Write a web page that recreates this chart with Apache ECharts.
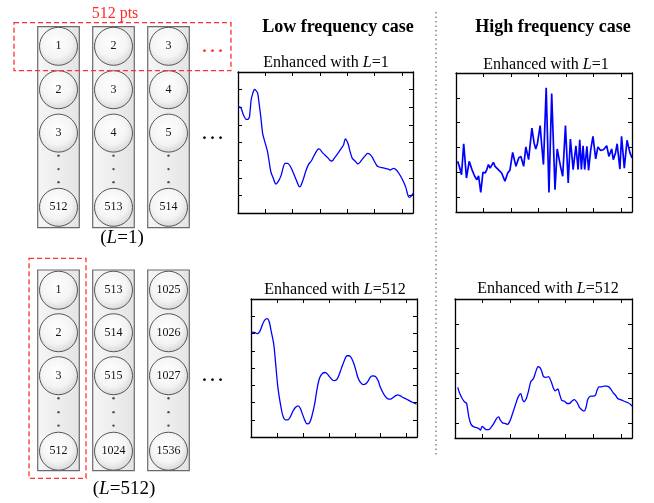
<!DOCTYPE html>
<html><head><meta charset="utf-8">
<script src="https://cdn.jsdelivr.net/npm/echarts@6/dist/echarts.min.js"></script>
<style>html,body{margin:0;padding:0;background:#fff}#c{width:654px;height:503px}</style>
</head><body><div id="c"></div>
<script>
// ---------------- data ----------------
const topColumns = [[1,2,3,512],[2,3,4,513],[3,4,5,514]];      // L=1 windows
const bottomColumns = [[1,2,3,512],[513,514,515,1024],[1025,1026,1027,1536]]; // L=512 windows

const lowL1X = [0,5,10,15,18,21,24,27,30,33,36,39,42,45,49,54,57,60,65,69,74,79,83,86,91,95,99,104,109,112,115,120,124,129,134,138,143,147,150,154,159,164,168,171,174,179,184,188,193,196,199,202,205,209,214,219,223,227,232,237,241,246,249,254,258,263,269,274,278,281,284,288,293,298,302,307,310,313,316,319,320];
const lowL1Y = [6.03,5.99,5.56,5.31,5.31,5.46,6.41,6.79,7.01,6.94,6.79,6.12,5.37,4.52,4.05,3.48,2.91,2.34,1.93,1.64,1.81,2.15,2.63,2.82,2.82,2.68,2.44,2.06,1.68,1.49,1.55,1.97,2.38,2.76,2.95,3.19,3.48,3.63,3.61,3.44,3.29,3.14,2.99,2.95,3.01,3.23,3.44,3.63,3.86,4.20,4.10,3.86,3.48,3.10,2.95,2.78,2.87,3.04,3.23,3.38,3.33,3.14,2.95,2.68,2.61,2.57,2.53,2.50,2.44,2.48,2.53,2.48,2.31,2.06,1.81,1.44,1.08,0.89,0.93,1.06,1.12];

const highL1X = [3,6,10,14,19,24,29,34,38,41,45,49,53,56,59,62,65,68,71,76,79,83,89,94,98,103,109,114,118,123,127,132,138,142,145,148,153,156,159,164,169,174,180,184,190,194,199,204,208,213,218,222,225,228,231,234,238,241,245,249,254,258,263,268,271,274,278,283,286,290,293,298,301,306,311,316,320];
const highL1Y = [2.04,1.84,1.50,2.75,1.37,2.04,1.71,1.44,1.30,1.46,0.79,1.60,1.57,1.71,1.91,1.77,1.84,2.00,1.84,1.73,1.71,1.57,1.24,1.57,1.68,2.40,1.84,2.18,2.24,1.84,2.62,2.11,3.38,2.78,2.54,2.75,3.48,2.65,1.91,5.00,0.79,4.77,0.90,2.54,1.84,1.44,3.48,1.17,2.94,1.71,2.67,1.71,2.91,1.71,2.67,1.71,2.65,1.68,2.51,3.05,2.14,2.62,2.48,2.51,2.54,2.67,2.24,2.54,2.11,2.38,2.75,1.73,3.05,1.77,2.89,2.40,2.18];

const lowL512X = [1,7,12,17,22,26,31,35,39,44,48,52,57,62,67,71,76,81,86,91,95,99,104,108,113,118,123,127,132,138,143,147,152,157,161,166,171,176,181,185,189,193,198,202,206,211,216,221,226,230,235,240,245,249,255,260,264,269,274,279,283,288,293,300,306,312,319,320];
const lowL512Y = [6.08,6.06,5.99,6.12,6.51,6.76,6.86,6.70,6.12,5.35,4.09,2.83,1.86,1.18,0.99,0.99,1.18,1.51,1.72,1.80,1.67,1.34,0.95,0.76,0.83,1.28,1.96,2.73,3.41,3.70,3.74,3.66,3.47,3.31,3.27,3.35,3.70,4.13,4.51,4.71,4.71,4.61,4.28,3.89,3.45,3.16,3.04,3.08,3.25,3.47,3.54,3.51,3.27,2.92,2.54,2.31,2.21,2.19,2.29,2.40,2.44,2.38,2.29,2.19,2.09,2.00,1.90,1.88];

const highL512X = [5,8,13,17,21,25,29,34,39,43,46,49,52,56,61,65,70,75,79,82,86,91,95,100,105,109,113,116,119,122,125,129,133,137,142,146,150,153,156,160,165,169,174,178,181,186,189,193,198,203,207,212,216,221,225,230,234,237,240,245,250,254,257,260,265,269,274,278,282,286,290,294,299,304,308,312,317,320];
const highL512Y = [2.04,1.82,1.59,1.46,1.39,0.85,0.55,0.45,0.42,0.38,0.31,0.47,0.42,0.34,0.34,0.42,0.58,0.78,0.85,0.72,0.61,0.58,0.55,0.72,1.05,1.32,1.59,1.73,1.79,1.55,1.46,1.59,1.90,2.27,2.40,2.67,2.87,2.85,2.74,2.47,2.44,2.47,2.27,2.00,1.90,1.98,1.77,1.52,1.48,1.39,1.39,1.50,1.55,1.42,1.23,1.12,1.09,1.25,1.55,1.69,1.69,1.73,1.93,2.06,2.06,2.09,2.09,2.06,1.96,1.82,1.73,1.59,1.55,1.50,1.46,1.43,1.36,1.28];

const highYTicks = [0.6,1.6,2.6,3.6,4.6];

// ---------------- layout ----------------
const SERIF = '"Liberation Serif", "Times New Roman", serif';
const rowPos = [[0,1,2,3.71],[5.62,6.6,7.59,9.33]];
const dotRows = [[2.52,2.83,3.13],[8.11,8.43,8.74]];
const rectRows = [[-0.452,4.18],[5.154,9.779]];
const redBoxes = [[-0.809,-0.544,3.136,0.562],[-0.536,4.885,0.5,9.954]];

const plotGrids = [
  {left:238, top:72, width:175, height:141},
  {left:456, top:73, width:176, height:139},
  {left:251, top:299, width:166, height:138},
  {left:455, top:299, width:177, height:139}
];
const isHigh = [false, true, false, true];

const zip = (xs, ys) => xs.map((x, i) => [x, ys[i]]);

const grid = plotGrids.map(g => Object.assign({containLabel:false}, g));
grid.push({left:31, top:24.6, width:165, height:477.4});

const xAxis = [], yAxis = [];
const axLine = {show:true, onZero:false, lineStyle:{color:'#000', width:1.3}};
plotGrids.forEach((g, gi) => {
  ['bottom','top'].forEach(pos => xAxis.push({
    gridIndex:gi, type:'value', position:pos, min:0, max:320, interval:50,
    axisLine:axLine, axisTick:{show:true, inside:true, length:4, lineStyle:{color:'#000', width:1}},
    axisLabel:{show:false}, splitLine:{show:false}
  }));
  ['left','right'].forEach(pos => {
    const ax = {
      gridIndex:gi, type:'value', position:pos,
      axisLine:axLine, axisLabel:{show:false}, splitLine:{show:false}
    };
    if (isHigh[gi]) {
      ax.min = 0; ax.max = 5.6;
      ax.axisTick = {show:true, inside:true, length:4, customValues:highYTicks, lineStyle:{color:'#000', width:1}};
    } else {
      ax.min = 0; ax.max = 8; ax.interval = 1;
      ax.axisTick = {show:true, inside:true, length:4, lineStyle:{color:'#000', width:1}};
    }
    yAxis.push(ax);
  });
});
xAxis.push({gridIndex:4, type:'value', min:-0.5, max:2.5, show:false});
yAxis.push({gridIndex:4, type:'value', inverse:true, min:-0.5, max:10.5, show:false});

const curves = [
  [lowL1X, lowL1Y, 0.2, 1.3],
  [highL1X, highL1Y, 0, 1.7],
  [lowL512X, lowL512Y, 0.3, 1.3],
  [highL512X, highL512Y, 0.2, 1.3]
];
const series = curves.map((c, i) => ({
  type:'line', xAxisIndex:2*i, yAxisIndex:2*i, data:zip(c[0], c[1]),
  showSymbol:false, smooth:c[2], lineStyle:{color:'#0000ff', width:c[3]}, z:3
}));

// column rectangles
const colData = [];
[0,1].forEach(b => [0,1,2].forEach(c => colData.push([c, b])));
series.push({
  type:'custom', xAxisIndex:8, yAxisIndex:8, clip:false, z:1, data:colData,
  renderItem: (params, api) => {
    const c = api.value(0), b = api.value(1);
    const p0 = api.coord([c - 0.378, rectRows[b][0]]);
    const p1 = api.coord([c + 0.378, rectRows[b][1]]);
    return {type:'rect', shape:{x:p0[0], y:p0[1], width:p1[0]-p0[0], height:p1[1]-p0[1]},
      style:{fill:new echarts.graphic.LinearGradient(0,0,1,0,[{offset:0,color:'#f6f6f6'},{offset:1,color:'#e4e4e4'}]),
        stroke:'#6a6a6a', lineWidth:1.2}};
  }
});
// circles
const circleData = [];
[topColumns, bottomColumns].forEach((cols, b) => cols.forEach((col, c) => col.forEach((v, r) => circleData.push([c, rowPos[b][r], v]))));
series.push({
  type:'scatter', xAxisIndex:8, yAxisIndex:8, clip:false, z:2, data:circleData, symbol:'circle', symbolSize:38,
  itemStyle:{color:{type:'radial', x:0.45, y:0.4, r:0.6, colorStops:[{offset:0,color:'#ffffff'},{offset:0.65,color:'#f4f4f4'},{offset:1,color:'#d8d8d8'}]},
    borderColor:'#555', borderWidth:1, opacity:1},
  label:{show:true, position:'inside', formatter:p => p.value[2], fontFamily:SERIF, fontSize:12, color:'#111'},
  emphasis:{disabled:true}
});
// vertical dots
const dotData = [];
[0,1].forEach(b => [0,1,2].forEach(c => dotRows[b].forEach(r => dotData.push([c, r]))));
series.push({
  type:'scatter', xAxisIndex:8, yAxisIndex:8, clip:false, z:2, data:dotData, symbol:'circle', symbolSize:2.4,
  itemStyle:{color:'#222'}, emphasis:{disabled:true}
});
// red dashed selection boxes
series.push({
  type:'custom', xAxisIndex:8, yAxisIndex:8, clip:false, z:4, data:redBoxes,
  renderItem: (params, api) => {
    const p0 = api.coord([api.value(0), api.value(1)]);
    const p1 = api.coord([api.value(2), api.value(3)]);
    return {type:'rect', shape:{x:p0[0], y:p0[1], width:p1[0]-p0[0], height:p1[1]-p0[1]},
      style:{fill:'none', stroke:'#ff3030', lineWidth:1.3, lineDash:[5,3]}};
  }
});

function rt(txt, x, y, size, color) {
  return {type:'text', x:x, y:y, z:10, style:{text:txt, align:'center', verticalAlign:'middle', fill:color || '#000',
    rich:{n:{fontSize:size, fontFamily:SERIF, fill:color || '#000'}, i:{fontSize:size, fontFamily:SERIF, fontStyle:'italic', fill:color || '#000'}}}};
}
function pt(txt, x, y, font, color) {
  return {type:'text', x:x, y:y, z:10, style:{text:txt, align:'center', verticalAlign:'middle', font:font, fill:color || '#000'}};
}

const graphic = [
  pt('Low frequency case', 338, 27, 'bold 18px ' + SERIF),
  pt('High frequency case', 553, 27, 'bold 18px ' + SERIF),
  rt('{n|Enhanced with }{i|L}{n|=1}', 326, 62.5, 16),
  rt('{n|Enhanced with }{i|L}{n|=1}', 546, 65, 16),
  rt('{n|Enhanced with }{i|L}{n|=512}', 335, 290, 16),
  rt('{n|Enhanced with }{i|L}{n|=512}', 548, 289, 16),
  rt('{n|(}{i|L}{n|=1)}', 122, 238, 19),
  rt('{n|(}{i|L}{n|=512)}', 124, 489, 19),
  pt('512 pts', 115, 13.5, '16px ' + SERIF, '#ff2a2a'),
  pt('\u2026', 212.5, 46, '24px ' + SERIF, '#ff2a2a'),
  pt('\u2026', 212.5, 133, '24px ' + SERIF),
  pt('\u2026', 212.5, 374.5, '24px ' + SERIF),
  {type:'line', z:10, shape:{x1:436, y1:12, x2:436, y2:457}, style:{stroke:'#666', lineWidth:1.2, lineDash:[1.5,3]}}
];

const chart = echarts.init(document.getElementById('c'), null, {renderer:'canvas'});
chart.setOption({animation:false, backgroundColor:'#fff', grid, xAxis, yAxis, series, graphic});
</script></body></html>
